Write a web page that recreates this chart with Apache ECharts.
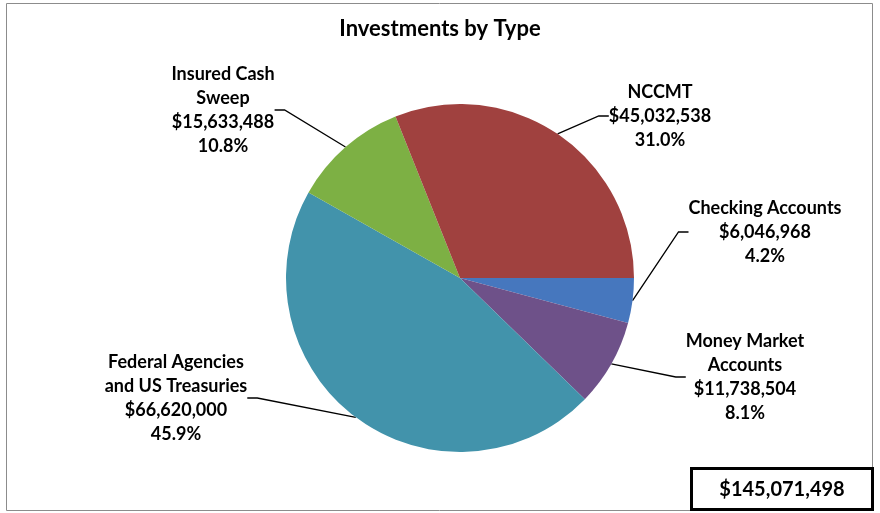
<!DOCTYPE html>
<html>
<head>
<meta charset="UTF-8">
<title>Investments by Type</title>
<script src="https://cdn.jsdelivr.net/npm/echarts@6/dist/echarts.min.js"></script>
<style>
  html, body { margin: 0; padding: 0; background: #fff; }
  #main { width: 880px; height: 513px; }
</style>
</head>
<body>
<div id="main"></div>
<script type="text/javascript">
// data, clockwise from 3 o'clock
var categories = ['Checking Accounts', 'Money Market\nAccounts', 'Federal Agencies\nand US Treasuries', 'Insured Cash\nSweep', 'NCCMT'];
var amounts = [6046968, 11738504, 66620000, 15633488, 45032538];
var colors = ['#4677BE', '#6E5189', '#4293AB', '#7DB044', '#A0413F'];
// where each label block sits (centre)
var labelSpots = [[765, 232], [745, 377], [176, 398], [223, 110], [660, 116]];

var total = amounts.reduce(function (a, b) { return a + b; }, 0);
function money(v) {
    return '$' + v.toString().replace(/\B(?=(\d{3})+(?!\d))/g, ',');
}

var font = 'Lato, "Open Sans", sans-serif';
var myChart = echarts.init(document.getElementById('main'));
var option = {
    animation: false,
    title: {
        text: 'Investments by Type',
        left: 'center',
        top: 13,
        textStyle: { fontFamily: font, fontSize: 22, fontWeight: 'bold', color: '#000' }
    },
    graphic: [
        {
            type: 'rect',
            shape: { x: 6.5, y: 3.5, width: 866, height: 507 },
            style: { fill: 'none', stroke: '#8c8c8c', lineWidth: 1 },
            z: -1
        },
        {
            type: 'rect',
            shape: { x: 691.5, y: 468.5, width: 181, height: 41 },
            style: { fill: '#fff', stroke: '#000', lineWidth: 3 }
        },
        {
            type: 'text',
            x: 782, y: 490,
            style: {
                text: money(total),
                fontFamily: font, fontSize: 20, fontWeight: 'bold', fill: '#000',
                align: 'center', verticalAlign: 'middle'
            }
        }
    ],
    series: [{
        type: 'pie',
        center: [460, 278],
        radius: 174,
        startAngle: 0,
        clockwise: true,
        percentPrecision: 1,
        itemStyle: { borderWidth: 0 },
        data: categories.map(function (c, i) {
            return { name: c, value: amounts[i], itemStyle: { color: colors[i] } };
        }),
        label: {
            show: true,
            position: 'outside',
            formatter: function (p) {
                return p.name + '\n' + money(p.value) + '\n' + p.percent.toFixed(1) + '%';
            },
            fontFamily: font,
            fontSize: 18,
            fontWeight: 'bold',
            color: '#000',
            lineHeight: 24,
            align: 'center'
        },
        labelLine: {
            show: true,
            length: 15,
            length2: 10,
            lineStyle: { color: '#000', width: 1.3 }
        },
        labelLayout: function (p) {
            var s = labelSpots[p.dataIndex];
            return { x: s[0], y: s[1], align: 'center', verticalAlign: 'middle' };
        },
        emphasis: { disabled: true }
    }]
};
myChart.setOption(option);
</script>
</body>
</html>
